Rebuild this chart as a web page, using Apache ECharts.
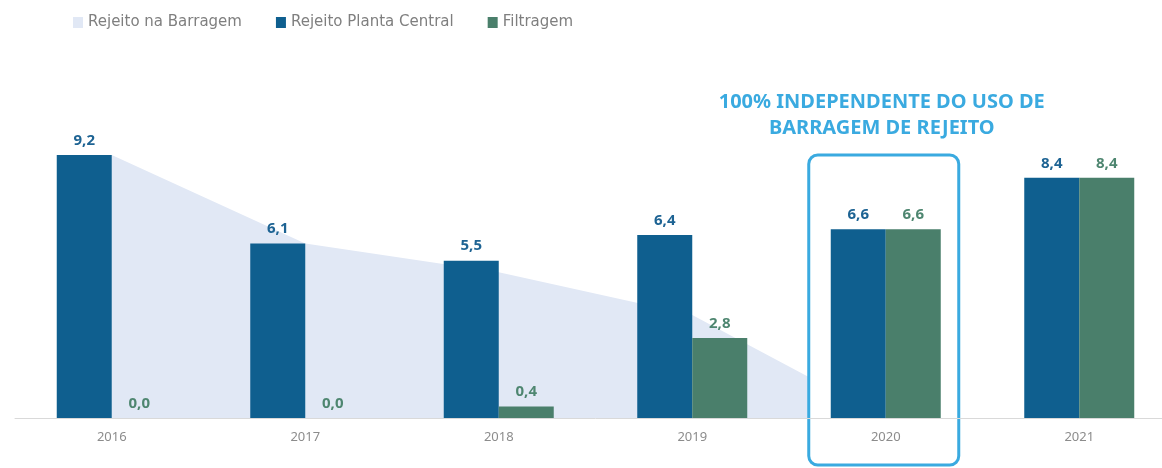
<!DOCTYPE html>
<html>
<head>
<meta charset="utf-8">
<script src="https://cdn.jsdelivr.net/npm/echarts@6/dist/echarts.min.js"></script>
<style>
  html, body { margin: 0; padding: 0; background: #fff; overflow: hidden; }
  /* the plot runs a little past the right edge of the picture, as in the reference */
  #chart { width: 1176px; height: 468px; }
</style>
</head>
<body>
<div id="chart"></div>
<script>
const years = ['2016', '2017', '2018', '2019', '2020', '2021'];
const barragem = [9.2, 6.1, 5.1, 3.6, 0, 0];
const plantaCentral = [9.2, 6.1, 5.5, 6.4, 6.6, 8.4];
const filtragem = [0.0, 0.0, 0.4, 2.8, 6.6, 8.4];
const noteLines = ['100% INDEPENDENTE DO USO DE', 'BARRAGEM DE REJEITO'];
const highlightYear = '2020';

const BLUE = '#0F5F8F';
const GREEN = '#4A7F6B';
const AREA = '#E1E8F5';
const NOTE = '#3AAAE0';

const chart = echarts.init(document.getElementById('chart'));

const fmt = p => p.value.toFixed(1).replace('.', ',');

chart.setOption({
    animation: false,
    textStyle: { fontFamily: 'Noto Sans' },
    legend: {
        top: 10,
        left: 68,
        itemGap: 34,
        itemWidth: 10,
        itemHeight: 11,
        icon: 'rect',
        textStyle: { color: '#7F7F7F', fontSize: 15, fontFamily: 'DejaVu Sans' },
        data: ['Rejeito na Barragem', 'Rejeito Planta Central', 'Filtragem']
    },
    grid: { left: 15, top: 132, right: 0, bottom: 50 },
    xAxis: {
        type: 'category',
        z: 3,
        data: years,
        axisLine: { lineStyle: { color: '#D9D9D9' } },
        axisTick: { length: 5, lineStyle: { color: '#B0B0B0' } },
        axisLabel: { color: '#8C8C8C', fontSize: 13, margin: 13 }
    },
    yAxis: {
        type: 'value',
        min: 0,
        max: 10,
        show: false,
        splitLine: { show: false }
    },
    series: [{
        name: 'Rejeito na Barragem',
        type: 'line',
        z: 1,
        data: barragem,
        symbol: 'none',
        lineStyle: { width: 0 },
        itemStyle: { color: AREA },
        areaStyle: { color: AREA, opacity: 1 }
    }, {
        name: 'Rejeito Planta Central',
        type: 'bar',
        z: 4,
        data: plantaCentral,
        barWidth: 55,
        barGap: '0%',
        itemStyle: { color: BLUE },
        label: {
            show: true,
            position: 'top',
            distance: 7,
            formatter: fmt,
            color: '#1D6393',
            fontWeight: 'bold',
            fontSize: 15
        }
    }, {
        name: 'Filtragem',
        type: 'bar',
        z: 4,
        data: filtragem,
        barWidth: 55,
        barGap: '0%',
        itemStyle: { color: GREEN },
        label: {
            show: true,
            position: 'top',
            distance: 7,
            formatter: fmt,
            color: '#4E8670',
            fontWeight: 'bold',
            fontSize: 15
        }
    }]
});

// highlight box + note, placed from the axis position of the highlighted year
const cx = chart.convertToPixel({ xAxisIndex: 0 }, highlightYear);
chart.setOption({
    graphic: [{
        type: 'rect',
        z: 2,
        shape: { x: cx - 77, y: 155, width: 150, height: 310, r: 9 },
        style: { fill: '#fff', stroke: NOTE, lineWidth: 3 }
    }, {
        type: 'text',
        z: 5,
        x: cx - 4,
        y: 115,
        style: {
            text: noteLines.join('\n'),
            fill: NOTE,
            font: 'bold 20px "Noto Sans"',
            lineHeight: 26,
            align: 'center',
            verticalAlign: 'middle'
        }
    }]
});
</script>
</body>
</html>
